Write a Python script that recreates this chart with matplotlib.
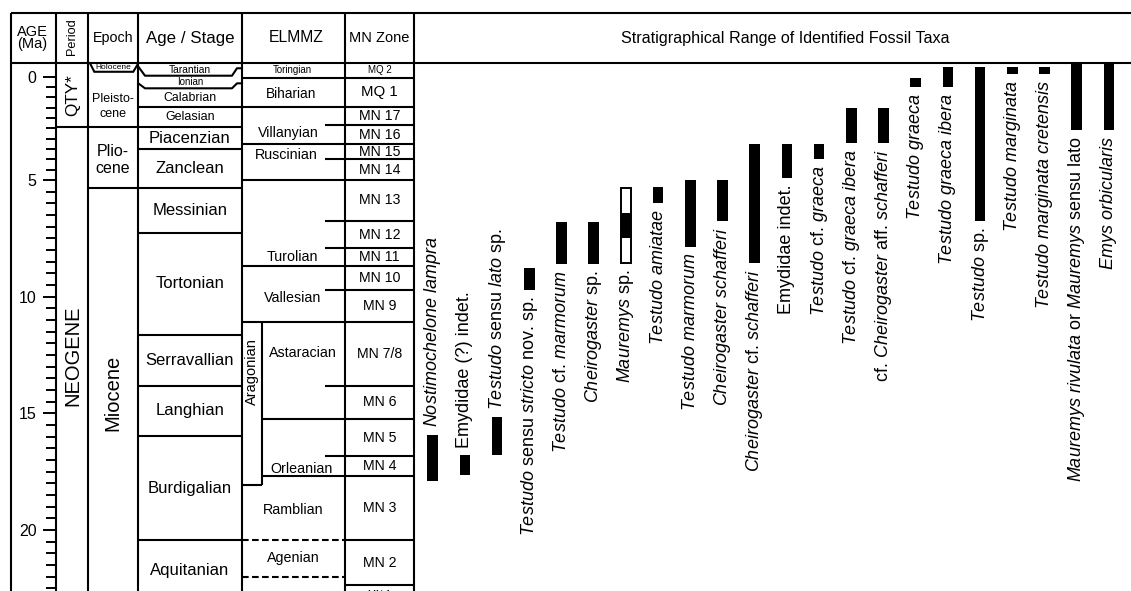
import numpy as np
import matplotlib
matplotlib.use("Agg")
import matplotlib.pyplot as plt
from matplotlib.ticker import FixedLocator, FuncFormatter, NullFormatter

plt.rcParams['font.family'] = ['Liberation Sans', 'DejaVu Sans']
plt.rcParams['mathtext.fontset'] = 'custom'
plt.rcParams['mathtext.it'] = 'Liberation Sans:italic'
plt.rcParams['mathtext.rm'] = 'Liberation Sans'
plt.rcParams['mathtext.bf'] = 'Liberation Sans:bold'

# ---------------- data (ages in Ma, chart scale; Quaternary is exaggerated) ----------------
age_major_ticks = [0, 5, 10, 15, 20]
age_minor_ticks = [i * 0.5 for i in range(0, 46)]

period_names = ["QTY*", "NEOGENE"]
period_bounds = [-0.65, 2.43, 23.03]
period_label_ages = [0.9, 12.55]

epoch_names = ["Holocene", "Pleisto-\ncene", "Plio-\ncene", "Miocene"]
epoch_bounds = [-0.65, -0.24, 2.43, 5.33, 23.03]
epoch_label_ages = [-0.44, 1.45, 4.01, 14.14]

stage_names = ["Tarantian", "Ionian", "Calabrian", "Gelasian", "Piacenzian", "Zanclean",
               "Messinian", "Tortonian", "Serravallian", "Langhian", "Burdigalian", "Aquitanian"]
stage_bounds = [-0.65, -0.05, 0.56, 1.47, 2.43, 3.50, 5.33, 7.25, 11.63, 13.82, 15.97, 20.44, 23.03]

elmmz_names = ["Toringian", "Biharian", "Villanyian", "Ruscinian", "Turolian", "Vallesian",
               "Astaracian", "Orleanian", "Ramblian", "Agenian"]
elmmz_label_ages = [-0.32, 0.85, 2.74, 3.79, 8.29, 10.06, 12.4, 17.4, 19.12, 21.2]
elmmz_full_bounds = [0.04, 1.47, 3.26, 5.0, 8.69, 11.07]
elmmz_sub_bounds = [15.24, 17.69]          # within the Aragonian
elmmz_dashed_bounds = [20.43, 22.0]        # Agenian (dashed)
aragonian_range = (11.07, 18.07)
mn_partial_bounds = [2.34, 4.0, 6.74, 7.93, 9.69, 13.82, 16.83]

mn_names = ["MQ 2", "MQ 1", "MN 17", "MN 16", "MN 15", "MN 14", "MN 13", "MN 12", "MN 11",
            "MN 10", "MN 9", "MN 7/8", "MN 6", "MN 5", "MN 4", "MN 3", "MN 2", "MN 1"]
mn_bounds = [-0.65, 0.04, 1.47, 2.34, 3.26, 4.0, 5.0, 6.74, 7.93, 8.69, 9.69, 11.07,
             13.82, 15.24, 16.83, 17.69, 20.43, 22.36, 23.2]

taxa = [r"$\mathit{Nostimochelone}$ $\mathit{lampra}$",
        "Emydidae (?) indet.",
        r"$\mathit{Testudo}$ sensu $\mathit{lato}$ sp.",
        r"$\mathit{Testudo}$ sensu $\mathit{stricto}$ nov. sp.",
        r"$\mathit{Testudo}$ cf. $\mathit{marmorum}$",
        r"$\mathit{Cheirogaster}$ sp.",
        r"$\mathit{Mauremys}$ sp.",
        r"$\mathit{Testudo}$ $\mathit{amiatae}$",
        r"$\mathit{Testudo}$ $\mathit{marmorum}$",
        r"$\mathit{Cheirogaster}$ $\mathit{schafferi}$",
        r"$\mathit{Cheirogaster}$ cf. $\mathit{schafferi}$",
        "Emydidae indet.",
        r"$\mathit{Testudo}$ cf. $\mathit{graeca}$",
        r"$\mathit{Testudo}$ cf. $\mathit{graeca}$ $\mathit{ibera}$",
        r"cf. $\mathit{Cheirogaster}$ aff. $\mathit{schafferi}$",
        r"$\mathit{Testudo}$ $\mathit{graeca}$",
        r"$\mathit{Testudo}$ $\mathit{graeca}$ $\mathit{ibera}$",
        r"$\mathit{Testudo}$ sp.",
        r"$\mathit{Testudo}$ $\mathit{marginata}$",
        r"$\mathit{Testudo}$ $\mathit{marginata}$ $\mathit{cretensis}$",
        r"$\mathit{Mauremys}$ $\mathit{rivulata}$ or $\mathit{Mauremys}$ sensu lato",
        r"$\mathit{Emys}$ $\mathit{orbicularis}$"]
taxa_top = [15.93, 16.79, 15.17, 8.77, 6.80, 6.80, 5.34, 5.30, 4.98, 4.98, 3.26, 3.26,
            3.26, 1.51, 1.51, 0.06, -0.47, -0.47, -0.47, -0.47, -0.66, -0.66]
taxa_bottom = [17.90, 17.64, 16.79, 9.71, 8.60, 8.60, 8.56, 5.99, 7.87, 6.76, 8.56, 4.90,
               3.98, 3.21, 3.21, 0.50, 0.50, 6.76, -0.13, -0.13, 2.58, 2.58]
taxa_label_above = [True, True, True] + [False] * 19
mauremys_sp_index = 6
mauremys_sp_confirmed = (6.41, 7.49)

# ---------------- layout ----------------
W, H = 1131.0, 591.0
top_px, head_top_px = 63.3, 12.7
col_x = [11, 56, 88, 138, 242, 345, 414]
arag_x = 262
partial_x = 325
LW = 1.5
Y_TOP, Y_BOT = -0.65, 22.61

fig = plt.figure(figsize=(W / 100, H / 100), dpi=100)
fig.patch.set_facecolor('white')
ax = fig.add_axes([0, 0, col_x[-1] / W, (H - top_px) / H])
axt = fig.add_axes([col_x[-1] / W, 0, (W - col_x[-1]) / W, (H - top_px) / H], sharey=ax)
axh = fig.add_axes([0, (H - top_px) / H, 1, (top_px - head_top_px) / H])

seg_age = [-50, 0, 5, 100]
seg_pos = [-50 * 20.67, 0, 103.3, 103.3 + 95 * 23.33]
fwd = lambda a: np.interp(a, seg_age, seg_pos)
inv = lambda p: np.interp(p, seg_pos, seg_age)
ax.set_yscale('function', functions=(fwd, inv))
ax.set_ylim(Y_BOT, Y_TOP)
ax.set_xlim(0, col_x[-1])
axt.set_xlim(-0.581, 21.686)

for a in (ax, axt, axh):
    for s in a.spines.values():
        s.set_visible(False)
    a.patch.set_alpha(0)
axh.set_xlim(0, W)
axh.set_ylim(0, 1)
axh.set_xticks([]); axh.set_yticks([])
ax.set_xticks([])
axt.tick_params(axis='both', which='both', left=False, labelleft=False,
                bottom=False, labelbottom=False)

# age axis ticks
ax.spines['left'].set_position(('data', 55.5))
ax.yaxis.set_major_locator(FixedLocator(age_major_ticks))
ax.yaxis.set_minor_locator(FixedLocator(age_minor_ticks))
ax.yaxis.set_major_formatter(FuncFormatter(lambda v, p: f"{v:.0f}"))
ax.yaxis.set_minor_formatter(NullFormatter())
ax.tick_params(axis='y', which='major', direction='out', length=9.5, width=1.4,
               labelsize=11.5, pad=4)
ax.tick_params(axis='y', which='minor', direction='out', length=7.5, width=1.4)

kw = dict(colors='k', lw=LW, clip_on=False)
# column verticals
ax.vlines(col_x, Y_BOT, Y_TOP, **kw)
axh.vlines(col_x, 0, 1, **kw)
axh.hlines([0, 1], col_x[0], W, **kw)

# period
ax.hlines(period_bounds[1:-1], col_x[1], col_x[2], **kw)
ax.text((col_x[1] + col_x[2]) / 2 + 0.5, period_label_ages[0], period_names[0], rotation=90,
        ha='center', va='center', fontsize=12.3)
ax.text((col_x[1] + col_x[2]) / 2 + 0.5, period_label_ages[1], period_names[1], rotation=90,
        ha='center', va='center', fontsize=14.5)

# epoch
ax.plot([90, 94.3, 133.3, 138.3], [epoch_bounds[0], epoch_bounds[1], epoch_bounds[1],
        epoch_bounds[0]], color='k', lw=LW, clip_on=False, solid_joinstyle='miter')
ax.hlines(epoch_bounds[2:-1], col_x[2], col_x[3], **kw)
ex = (col_x[2] + col_x[3]) / 2
ax.text(ex, epoch_label_ages[0], epoch_names[0], ha='center', va='center', fontsize=6)
ax.text(ex, epoch_label_ages[1], epoch_names[1], ha='center', va='center', fontsize=9,
        linespacing=1.3)
ax.text(ex, epoch_label_ages[2], epoch_names[2], ha='center', va='center', fontsize=11.5,
        linespacing=1.15)
ax.text(ex - 0.5, epoch_label_ages[3], epoch_names[3], ha='center', va='center',
        fontsize=14.5, rotation=90)

# stages
x0, x1 = col_x[3], col_x[4]
ax.plot([x0 + 0.3, x0 + 7, x1 - 10, x1 - 5, x1], [-0.49, stage_bounds[1], stage_bounds[1],
        -0.41, -0.41], color='k', lw=LW, clip_on=False)
ax.plot([x0 + 0.3, x0 + 7, x1 - 10, x1 - 5, x1], [0.32, stage_bounds[2], stage_bounds[2],
        0.32, 0.32], color='k', lw=LW, clip_on=False)
ax.hlines(stage_bounds[3:-1], x0, x1, **kw)
stage_sizes = [7.4, 7.0, 8.8, 9.0] + [12.0] * 8
for n, t, b, fs in zip(stage_names, stage_bounds[:-1], stage_bounds[1:], stage_sizes):
    mid = inv((fwd(t) + fwd(b)) / 2)
    ax.text((x0 + x1) / 2, mid, n, ha='center', va='center', fontsize=fs)

# ELMMZ
e0, e1 = col_x[4], col_x[5]
ax.hlines(elmmz_full_bounds, e0, e1, **kw)
ax.hlines(elmmz_sub_bounds, arag_x, e1, **kw)
ax.hlines(elmmz_dashed_bounds, e0, e1, colors='k', lw=LW, linestyles=(0, (3.2, 1.6)),
          clip_on=False)
ax.vlines(arag_x, aragonian_range[0], aragonian_range[1], **kw)
ax.hlines(aragonian_range[1], e0, arag_x, **kw)
ax.hlines(mn_partial_bounds, partial_x, e1, **kw)
ax.text((e0 + arag_x) / 2, 13.2, "Aragonian", rotation=90, ha='center', va='center',
        fontsize=10.5)
elmmz_x = [292, 291, 288, 286.7, 292.5, 292.5, 303, 302, 292.8, 293.3]
elmmz_sizes = [7.0, 9.8, 10.2, 10.3, 10.3, 10.3, 10.3, 10.3, 10.3, 10.3]
for n, y, xx, fs in zip(elmmz_names, elmmz_label_ages, elmmz_x, elmmz_sizes):
    ax.text(xx, y, n, ha='center', va='center', fontsize=fs)

# MN zones
m0, m1 = col_x[5], col_x[6]
ax.hlines(mn_bounds[1:-1], m0, m1, **kw)
mn_sizes = [7.0, 10.8] + [10.2] * 15 + [7.0]
for n, t, b, fs in zip(mn_names, mn_bounds[:-1], mn_bounds[1:], mn_sizes):
    mid = inv((fwd(t) + fwd(b)) / 2)
    ax.text((m0 + m1) / 2, mid, n, ha='center', va='center', fontsize=fs, clip_on=False)

# header texts
axh.text(32.5, 0.5, "AGE\n(Ma)", ha='center', va='center', fontsize=10.5, linespacing=0.9)
axh.text(72, 0.53, "Period", ha='center', va='center', fontsize=9.2, rotation=90)
axh.text(113, 0.5, "Epoch", ha='center', va='center', fontsize=10.3)
axh.text(190, 0.5, "Age / Stage", ha='center', va='center', fontsize=12.2)
axh.text(296, 0.5, "ELMMZ", ha='center', va='center', fontsize=11.3)
axh.text(379, 0.5, "MN Zone", ha='center', va='center', fontsize=10.5)
axh.text(785, 0.5, "Stratigraphical Range of Identified Fossil Taxa", ha='center',
         va='center', fontsize=11.6)

# taxa ranges
BW = 0.33
for i, (name, t, b, above) in enumerate(zip(taxa, taxa_top, taxa_bottom, taxa_label_above)):
    if i == mauremys_sp_index:
        axt.bar(i, b - t, bottom=t, width=BW, facecolor='white', edgecolor='k', linewidth=1.4)
        c0, c1 = mauremys_sp_confirmed
        axt.bar(i, c1 - c0, bottom=c0, width=BW, color='k', linewidth=0)
    else:
        axt.bar(i, b - t, bottom=t, width=BW, color='k', linewidth=0)
    if above:
        axt.annotate(name, xy=(i, t), xytext=(0, 5.5), textcoords='offset points',
                     rotation=90, ha='center', va='bottom', fontsize=13,
                     annotation_clip=False)
    else:
        axt.annotate(name, xy=(i, b), xytext=(0, -4.5), textcoords='offset points',
                     rotation=90, ha='center', va='top', fontsize=13,
                     annotation_clip=False)

fig.savefig("out.png", dpi=100, facecolor='white')
